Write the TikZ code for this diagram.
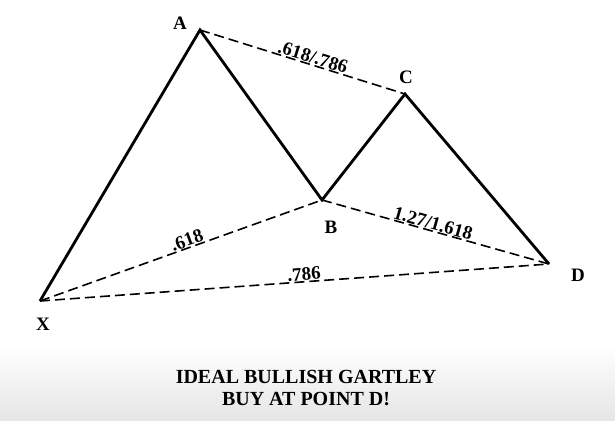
\documentclass[tikz,border=0pt]{standalone}
\usepackage{fontspec}
\setmainfont{Liberation Serif}
\usetikzlibrary{positioning}
\begin{document}
\begin{tikzpicture}[x=1pt,y=-1pt,
  leg/.style={line width=2.8pt,line join=miter},
  fib/.style={line width=1.6pt,dash pattern=on 10pt off 5pt},
  pt/.style={font=\bfseries\fontsize{19}{19}\selectfont,inner sep=0pt},
  ratio/.style={font=\bfseries\fontsize{19}{19}\selectfont,sloped,anchor=base,inner sep=0pt,yshift=1.5pt},
  caption/.style={font=\bfseries\fontsize{20}{20}\selectfont,inner sep=0pt}]
\useasboundingbox (0,0) rectangle (615,420);
% grey band at the bottom
\shade[top color=white,bottom color=black!10,draw=none] (0,345) rectangle (615,420);
% swing points
\coordinate (X) at (40,301);
\coordinate (A) at (200,30);
\coordinate (B) at (322,200);
\coordinate (C) at (405,94);
\coordinate (D) at (549,264);
% ratio lines
\draw[fib] (A) -- (C) node[ratio,pos=0.54] {.618/.786};
\draw[fib] (X) -- (B) node[ratio,pos=0.53] {.618};
\draw[fib] (B) -- (D) node[ratio,pos=0.48] {1.27/1.618};
\draw[fib] (X) -- (D) node[ratio,pos=0.52] {.786};
% price legs
\draw[leg] (X) -- (A) -- (B) -- (C) -- (D);
% point labels
\node[pt] (lA) at (180,23) {A};
\node[pt] (lB) at (331,227) {B};
\node[pt] (lC) at (406,77) {C};
\node[pt] (lD) at (578,275) {D};
\node[pt] (lX) at (43,324) {X};
% caption
\node[caption] (title) at (306,377) {IDEAL BULLISH GARTLEY};
\node[caption] (buy) at (306,399) {BUY AT POINT D!};
\end{tikzpicture}
\end{document}
